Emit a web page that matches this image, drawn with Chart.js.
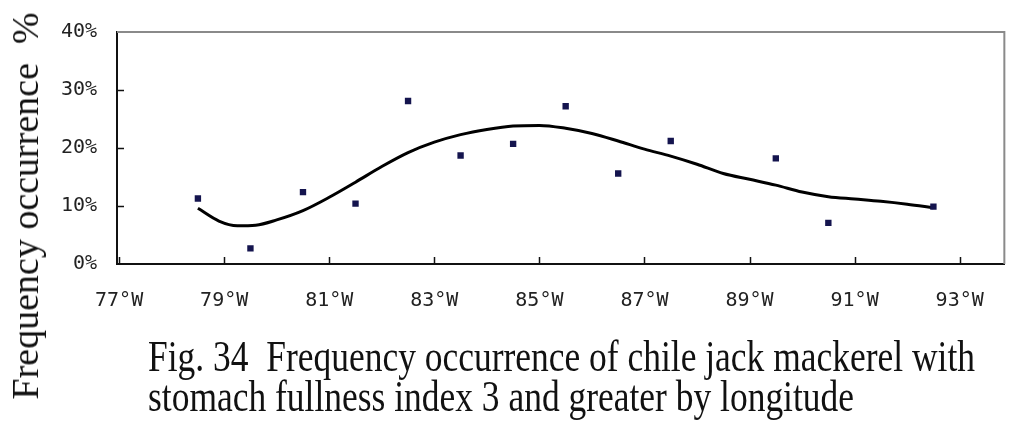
<!DOCTYPE html>
<html>
<head>
<meta charset="utf-8">
<script src="https://cdn.jsdelivr.net/npm/chart.js@4/dist/chart.umd.min.js"></script>
<style>
    html, body { margin: 0; padding: 0; background: #fff; }
    #wrap { position: relative; width: 1009px; height: 421px; overflow: hidden; }
    #chart { position: absolute; left: 0; top: 0; }
    #ytitle {
        position: absolute; left: 25px; top: 206px;
        transform: translate(-50%, -50%) rotate(-90deg);
        white-space: pre; font: 38px 'Liberation Serif', serif; color: #111;
    }
    .caption {
        position: absolute; left: 148px; white-space: pre;
        font: 44px/44px 'Liberation Serif', serif; color: #111;
        transform-origin: 0 0;
    }
</style>
</head>
<body>
<div id="wrap">
    <canvas id="chart" width="1009" height="421"></canvas>
    <div id="ytitle">Frequency occurrence  %</div>
    <div class="caption" id="cap1" style="top:335px">Fig. 34  Frequency occurrence of chile jack mackerel with</div>
    <div class="caption" id="cap2" style="top:375px">stomach fullness index 3 and greater by longitude</div>
</div>
<script>
// sampled stations: longitude (°W) and frequency occurrence (%)
const stationLon = [78.5, 79.5, 80.5, 81.5, 82.5, 83.5, 84.5, 85.5, 86.5, 87.5, 89.5, 90.5, 92.5];
const stationPct = [11.3, 2.7, 12.4, 10.4, 28.1, 18.7, 20.7, 27.2, 15.6, 21.2, 18.2, 7.1, 9.9];

// polynomial trend line, read along its length
const trendLon = [78.5, 78.9, 79.25, 79.6, 80.0, 80.5, 81.0, 81.5, 82.0, 82.5, 83.0, 83.5, 84.0, 84.5, 85.0,
                  85.5, 86.0, 86.5, 87.0, 87.5, 88.0, 88.5, 89.0, 89.5, 90.0, 90.5, 91.0, 91.5, 92.0, 92.5];
const trendPct = [9.6, 7.4, 6.6, 6.7, 7.6, 9.2, 11.5, 14.1, 16.8, 19.2, 21.0, 22.3, 23.2, 23.8, 23.9,
                  23.4, 22.5, 21.2, 19.8, 18.6, 17.2, 15.6, 14.6, 13.6, 12.4, 11.6, 11.2, 10.8, 10.3, 9.7];

// axis ticks
const lonTicks = [77, 79, 81, 83, 85, 87, 89, 91, 93];
const lonTickLabels = ['77°W', '79°W', '81°W', '83°W', '85°W', '87°W', '89°W', '91°W', '93°W'];
const pctTicks = [0, 10, 20, 30, 40];
const pctTickLabels = ['0%', '10%', '20%', '30%', '40%'];

// grey top/right frame plus short inward tick marks
const framePlugin = {
    id: 'frame',
    beforeDatasetsDraw(chart) {
        const { ctx, chartArea: a, scales } = chart;
        ctx.save();
        ctx.strokeStyle = '#8a8a8a';
        ctx.lineWidth = 2;
        ctx.beginPath();
        ctx.moveTo(a.left, a.top);
        ctx.lineTo(a.right, a.top);
        ctx.lineTo(a.right, a.bottom);
        ctx.stroke();

        ctx.strokeStyle = '#111';
        ctx.lineWidth = 1.5;
        ctx.beginPath();
        lonTicks.forEach(v => {
            const x = Math.round(scales.x.getPixelForValue(v)) + 0.5;
            ctx.moveTo(x, a.bottom);
            ctx.lineTo(x, a.bottom - 7);
        });
        pctTicks.slice(1, -1).forEach(v => {
            const y = Math.round(scales.y.getPixelForValue(v)) + 0.5;
            ctx.moveTo(a.left, y);
            ctx.lineTo(a.left + 7, y);
        });
        ctx.stroke();
        ctx.restore();
    }
};

const tickFont = { family: "'DejaVu Sans Mono', monospace", size: 20 };

new Chart(document.getElementById('chart').getContext('2d'), {
    type: 'scatter',
    data: {
        datasets: [{
            label: 'Stations',
            data: stationLon.map((lon, i) => ({ x: lon, y: stationPct[i] })),
            pointStyle: 'rect',
            pointRadius: 4.5,
            backgroundColor: '#14144e',
            borderColor: '#14144e',
            borderWidth: 0
        }, {
            label: 'Trend',
            data: trendLon.map((lon, i) => ({ x: lon, y: trendPct[i] })),
            showLine: true,
            cubicInterpolationMode: 'monotone',
            borderColor: '#000',
            borderWidth: 3,
            pointRadius: 0
        }]
    },
    options: {
        responsive: false,
        devicePixelRatio: 1,
        animation: false,
        layout: { padding: { top: 26, right: 3, left: 0, bottom: 0 } },
        plugins: { legend: { display: false }, tooltip: { enabled: false } },
        scales: {
            x: {
                type: 'linear',
                min: 76.96,
                max: 93.85,
                afterFit: s => { s.height = 157; },
                afterBuildTicks: s => { s.ticks = lonTicks.map(v => ({ value: v })); },
                grid: { display: false, drawTicks: false },
                border: { display: true, color: '#111', width: 2 },
                ticks: {
                    padding: 25,
                    color: '#222',
                    font: tickFont,
                    maxRotation: 0,
                    autoSkip: false,
                    callback: v => lonTickLabels[lonTicks.indexOf(v)]
                }
            },
            y: {
                min: 0,
                max: 40,
                afterFit: s => { s.width = 117; },
                afterBuildTicks: s => { s.ticks = pctTicks.map(v => ({ value: v })); },
                grid: { display: false, drawTicks: false },
                border: { display: true, color: '#111', width: 2 },
                ticks: {
                    padding: 20,
                    color: '#222',
                    font: tickFont,
                    callback: v => pctTickLabels[pctTicks.indexOf(v)]
                }
            }
        }
    },
    plugins: [framePlugin]
});

// squeeze the caption lines to their set width
const cap1 = document.getElementById('cap1');
const cap2 = document.getElementById('cap2');
const squeeze = 827 / cap1.getBoundingClientRect().width;
cap1.style.transform = `scaleX(${squeeze})`;
cap2.style.transform = `scaleX(${squeeze})`;
</script>
</body>
</html>
